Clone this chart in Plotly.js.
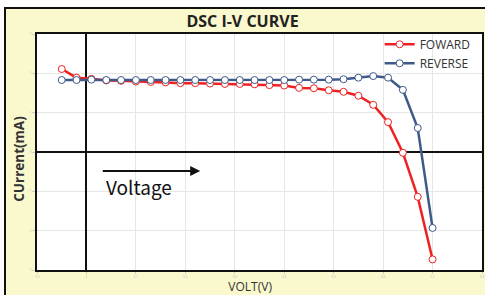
<!DOCTYPE html>
<html>
<head>
<meta charset="utf-8">
<script src="https://cdn.plot.ly/plotly-3.0.1.min.js"></script>
<style>html,body{margin:0;padding:0;background:#fff;}#chart{width:485px;height:295px;}</style>
</head>
<body>
<div id="chart"></div>
<script>
// Voltage points (V)
var volt = [-0.05,-0.02,0.01,0.04,0.07,0.10,0.13,0.16,0.19,0.22,0.25,0.28,0.31,0.34,0.37,0.40,0.43,0.46,0.49,0.52,0.55,0.58,0.61,0.64,0.67,0.70];
// Current (mA) forward sweep
var forward = [2.11,1.89,1.86,1.82,1.81,1.79,1.78,1.77,1.75,1.75,1.74,1.73,1.73,1.72,1.70,1.69,1.63,1.62,1.57,1.53,1.43,1.20,0.76,-0.02,-1.14,-2.73];
// Current (mA) reverse sweep
var reverse = [1.83,1.83,1.84,1.83,1.83,1.83,1.83,1.83,1.83,1.83,1.83,1.83,1.83,1.83,1.83,1.83,1.84,1.84,1.84,1.85,1.89,1.93,1.89,1.58,0.61,-1.93];
var seriesNames = ["FOWARD","REVERSE"];
var chartTitle = "DSC I-V CURVE";
var xTitle = "VOLT(V)";
var yTitle = "CUrrent(mA)";
var arrowLabel = "Voltage";

var traces = [
  {x: volt, y: forward, name: seriesNames[0], type: "scatter", mode: "lines+markers",
   line: {color: "#ee2222", width: 2.5},
   marker: {symbol: "circle", size: 7, color: "#ffffff", line: {color: "#ee2222", width: 1}}},
  {x: volt, y: reverse, name: seriesNames[1], type: "scatter", mode: "lines+markers",
   line: {color: "#3d5a88", width: 2.5},
   marker: {symbol: "circle", size: 7, color: "#ffffff", line: {color: "#3d5a88", width: 1}}}
];

var nb = "&nbsp;";
var layout = {
  width: 485, height: 295,
  margin: {l: 37, r: 3, t: 34, b: 25},
  paper_bgcolor: "#ffffff",
  plot_bgcolor: "#ffffff",
  showlegend: true,
  title: {text: "<b>" + chartTitle + "</b>", font: {family: "Open Sans", size: 16, color: "#222"},
          x: 0.5, xanchor: "center", y: 1 - 21/295, yanchor: "middle", yref: "container"},
  xaxis: {range: [-0.1, 0.8], dtick: 0.1, tick0: 0, showgrid: true, gridcolor: "#e6e6e6", gridwidth: 1,
          zeroline: true, zerolinecolor: "#111", zerolinewidth: 2,
          showline: true, linecolor: "#111", linewidth: 2, mirror: true,
          ticks: "outside", ticklen: 2, tickcolor: "#cccccc",
          tickfont: {size: 3, color: "#bbbbbb"},
          title: {text: xTitle + nb.repeat(6), font: {family: "Open Sans", size: 12, color: "#333"}, standoff: 5}},
  yaxis: {range: [-3, 3], dtick: 1, showgrid: true, gridcolor: "#e6e6e6", gridwidth: 1,
          zeroline: true, zerolinecolor: "#111", zerolinewidth: 2,
          showline: true, linecolor: "#111", linewidth: 2, mirror: true,
          ticks: "outside", ticklen: 3, tickcolor: "#cccccc",
          tickfont: {size: 3, color: "#bbbbbb"},
          title: {text: "<b>" + yTitle + "</b>" + nb.repeat(4), font: {family: "Open Sans", size: 13.5, color: "#333"}, standoff: 0}},
  legend: {x: 0.77, xanchor: "left", y: 1.018, yanchor: "top", bgcolor: "rgba(0,0,0,0)",
           font: {family: "Open Sans", size: 12, color: "#333"}, tracegroupgap: 0, itemwidth: 30},
  shapes: [
    {type: "rect", xref: "paper", yref: "paper", x0: (5-37)/445, x1: (495-37)/445, y0: (270-300)/236, y1: (270-8)/236,
     fillcolor: "#faf8cd", line: {color: "#111", width: 2}, layer: "below"},
    {type: "rect", xref: "paper", yref: "paper", x0: 0, x1: 1, y0: 0, y1: 1,
     fillcolor: "#ffffff", line: {width: 0}, layer: "below"}
  ],
  annotations: [
    {x: 0.23, y: -0.48, xref: "x", yref: "y", ax: 0.03, ay: -0.48, axref: "x", ayref: "y",
     text: "", showarrow: true, arrowhead: 2, arrowsize: 1, arrowwidth: 2, arrowcolor: "#111"},
    {x: 0.035, y: -0.87, xref: "x", yref: "y", text: arrowLabel, showarrow: false, xanchor: "left", yanchor: "middle",
     font: {family: "Noto Sans CJK JP", size: 19, color: "#111"}}
  ]
};

Plotly.newPlot("chart", traces, layout, {displayModeBar: false, staticPlot: true});
</script>
</body>
</html>
